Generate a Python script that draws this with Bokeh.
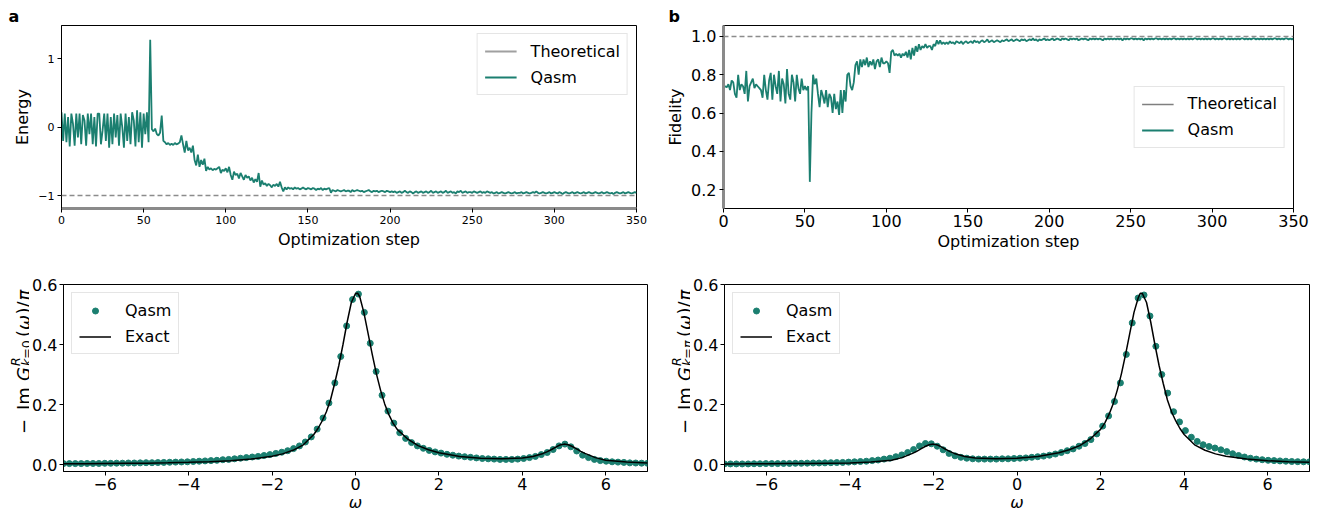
import numpy as np
from math import pi
from bokeh.plotting import figure
from bokeh.layouts import row, column
from bokeh.models import Span, Legend, LegendItem, Label, Range1d, Title
from bokeh.embed import file_html
from bokeh.resources import INLINE

FONT = "DejaVu Sans"
TEAL = "#1b7f70"

# ---------------- data: panel a (energy) ----------------
energy = [
    0.22, -0.20, 0.20, -0.22, 0.15, -0.28, 0.20, 0.05, -0.27, 0.20,
    -0.15, 0.20, -0.25, 0.18, 0.10, -0.27, 0.20, -0.10, 0.20, -0.25,
    0.15, -0.28, 0.20, 0.20, -0.25, -0.05, 0.20, -0.20, 0.20, -0.30,
    0.15, -0.25, 0.20, -0.15, 0.18, -0.27, 0.20, 0.00, -0.30, 0.20,
    -0.20, 0.15, -0.25, 0.22, 0.10, -0.28, 0.25, -0.22, 0.22, -0.30,
    0.20, -0.10, 0.22, -0.22,
    1.28, -0.03, -0.06, -0.02, -0.10, -0.12, -0.08, 0.17, -0.20, -0.22,
    -0.25, -0.23, -0.26, -0.24, -0.26, -0.23, -0.25, -0.24, -0.22, -0.12,
    -0.25, -0.37, -0.20, -0.34, -0.30, -0.37, -0.27, -0.48, -0.56, -0.40,
    -0.58, -0.48, -0.55, -0.46, -0.64, -0.58, -0.62, -0.60, -0.63, -0.61,
    -0.62, -0.60, -0.58, -0.67, -0.62, -0.64, -0.60, -0.66, -0.58, -0.70,
    -0.77, -0.65, -0.70, -0.68, -0.75, -0.67, -0.72, -0.77, -0.70, -0.74,
    -0.72, -0.78, -0.74, -0.81, -0.76, -0.80, -0.67, -0.87, -0.78, -0.84,
    -0.82, -0.86, -0.83, -0.85, -0.88, -0.84, -0.86, -0.83, -0.87, -0.80,
    -0.88, -0.94, -0.88, -0.91, -0.88, -0.90, -0.89, -0.91, -0.88, -0.90,
    -0.89, -0.91, -0.90, -0.88, -0.90, -0.91, -0.89, -0.90,
    -0.91, -0.89, -0.90, -0.92, -0.90, -0.91, -0.89, -0.92, -0.90, -0.91, -0.90, -0.89,
    -0.96,
    -0.92, -0.93, -0.94, -0.92, -0.93, -0.94, -0.93, -0.92, -0.94, -0.93,
    -0.93, -0.95, -0.92, -0.94, -0.93, -0.92, -0.93, -0.94, -0.93, -0.95,
    -0.94, -0.93, -0.92, -0.94, -0.95, -0.93, -0.94, -0.93, -0.95, -0.94,
    -0.93, -0.94, -0.95, -0.93, -0.94, -0.95,
    -0.94, -0.95, -0.94, -0.96, -0.95, -0.94, -0.96, -0.95, -0.93, -0.95,
    -0.96, -0.94, -0.95, -0.97, -0.95, -0.94, -0.96, -0.95, -0.94, -0.96,
    -0.95, -0.94, -0.96, -0.95, -0.93, -0.96, -0.95, -0.94, -0.96, -0.95,
    -0.94, -0.96, -0.95, -0.93, -0.96, -0.95, -0.94, -0.96, -0.95, -0.97,
    -0.94, -0.95, -0.93, -0.96, -0.95, -0.94, -0.96, -0.95, -0.95, -0.96,
    -0.94, -0.95, -0.96, -0.95, -0.94, -0.96, -0.95, -0.96, -0.94, -0.95,
    -0.96, -0.95, -0.97, -0.96, -0.95, -0.97, -0.96, -0.95, -0.96, -0.97,
    -0.96, -0.95, -0.96, -0.97, -0.96, -0.95, -0.97, -0.96, -0.96, -0.95,
    -0.97, -0.96, -0.95, -0.96, -0.97, -0.96, -0.95, -0.96, -0.94, -0.96,
    -0.97, -0.96, -0.95, -0.96, -0.97, -0.96, -0.95, -0.97, -0.96, -0.95,
    -0.96, -0.97, -0.95, -0.96, -0.98, -0.96, -0.95, -0.96, -0.97, -0.96,
    -0.95, -0.97, -0.96, -0.95, -0.96, -0.97, -0.96, -0.95, -0.97, -0.96,
    -0.95, -0.96, -0.97, -0.96, -0.95, -0.96, -0.97, -0.96, -0.95, -0.97,
    -0.96, -0.95, -0.96, -0.97, -0.96, -0.98, -0.96, -0.95, -0.96, -0.97,
    -0.96, -0.95, -0.97, -0.96, -0.95, -0.96, -0.97, -0.96, -0.95, -0.96,
]
THEORY_ENERGY = -1.0

# ---------------- data: panel b (fidelity) ----------------
fidelity = [
    0.73, 0.74, 0.735, 0.75, 0.72, 0.77, 0.76, 0.70, 0.68, 0.80,
    0.72, 0.75, 0.74, 0.70, 0.82, 0.66, 0.74, 0.76, 0.78, 0.73,
    0.75, 0.74, 0.73, 0.72, 0.68, 0.80, 0.72, 0.67, 0.77, 0.81,
    0.67, 0.80, 0.74, 0.70, 0.82, 0.66, 0.78, 0.75, 0.65, 0.83,
    0.70, 0.67, 0.80, 0.76, 0.66, 0.80, 0.73, 0.70, 0.78, 0.72,
    0.74, 0.72, 0.74,
    0.24, 0.60, 0.80, 0.75, 0.78, 0.70, 0.63, 0.72, 0.69, 0.65,
    0.72, 0.63, 0.70, 0.68, 0.60, 0.70, 0.62, 0.66, 0.59, 0.72,
    0.60, 0.72, 0.66, 0.80, 0.81, 0.74, 0.72, 0.76, 0.85, 0.87,
    0.80, 0.88, 0.84, 0.88, 0.85, 0.89, 0.84, 0.87, 0.85, 0.88,
    0.83, 0.87, 0.88, 0.84, 0.89, 0.86, 0.86, 0.87, 0.86, 0.81,
    0.92, 0.93, 0.90, 0.91, 0.90, 0.91, 0.89, 0.91, 0.90, 0.92,
    0.89, 0.93, 0.88, 0.94, 0.90, 0.95, 0.92, 0.96, 0.93, 0.95,
    0.94, 0.96, 0.94, 0.95, 0.95, 0.93, 0.96, 0.95, 0.98, 0.96,
    0.98, 0.96, 0.97, 0.96,
    0.97, 0.96, 0.975, 0.965, 0.97, 0.96, 0.975, 0.97, 0.965, 0.975,
    0.96, 0.97, 0.975, 0.965,
    0.97, 0.975, 0.965, 0.98, 0.97, 0.975, 0.965, 0.975, 0.98, 0.97,
    0.975, 0.985, 0.97, 0.975, 0.98, 0.97, 0.975, 0.98, 0.975, 0.97,
    0.98, 0.975, 0.98, 0.985, 0.975, 0.98, 0.985, 0.975, 0.98, 0.985,
    0.98, 0.975, 0.985, 0.98, 0.985, 0.975, 0.98, 0.985, 0.98, 0.99,
    0.98, 0.985, 0.975, 0.985, 0.98, 0.985, 0.99, 0.98, 0.985, 0.98,
    0.985, 0.99, 0.98, 0.985, 0.99, 0.985, 0.98, 0.99, 0.985, 0.99,
    0.985, 0.98, 0.99, 0.985, 0.99, 0.985, 0.99, 0.98, 0.985, 0.99,
    0.985, 0.99, 0.985, 0.98, 0.99, 0.985, 0.99, 0.985, 0.99, 0.985,
    0.99, 0.985, 0.98, 0.99, 0.985, 0.99, 0.985, 0.99, 0.985, 0.99,
    0.985, 0.99, 0.985, 0.99, 0.98, 0.99, 0.985, 0.99, 0.985, 0.99,
    0.99, 0.985, 0.99, 0.985, 0.99, 0.985, 0.99, 0.98, 0.99, 0.985,
    0.99, 0.985, 0.99, 0.985, 0.99, 0.99, 0.985, 0.99, 0.985, 0.99,
    0.985, 0.99, 0.985, 0.99, 0.985, 0.99, 0.99, 0.985, 0.99, 0.985,
    0.99, 0.985, 0.99, 0.985, 0.99, 0.985, 0.99, 0.985, 0.99, 0.99,
    0.985, 0.99, 0.985, 0.99, 0.985, 0.99, 0.985, 0.99, 0.985, 0.99,
    0.99, 0.985, 0.99, 0.985, 0.99, 0.985, 0.99, 0.99, 0.985, 0.99,
    0.985, 0.99, 0.985, 0.99, 0.985, 0.99, 0.985, 0.99, 0.99, 0.985,
    0.99, 0.985, 0.99, 0.985, 0.99, 0.99, 0.985, 0.99, 0.985, 0.99,
    0.985, 0.99, 0.985, 0.99, 0.985, 0.99, 0.985, 0.99, 0.99, 0.985,
    0.99, 0.985, 0.99, 0.985, 0.99, 0.99, 0.985, 0.99, 0.985, 0.99,
]
THEORY_FIDELITY = 1.0

# ---------------- data: panels c, d (spectral functions) ----------------
omega_qasm = np.linspace(-7, 7, 100)   # sampling grid of the Qasm points

qasm_k0 = [
    0.003, 0.003, 0.003, 0.003, 0.0035, 0.0035, 0.0035, 0.004, 0.004, 0.0045,
    0.0045, 0.005, 0.005, 0.0055, 0.006, 0.006, 0.0065, 0.007, 0.0075, 0.008,
    0.0085, 0.009, 0.010, 0.011, 0.012, 0.013, 0.014, 0.016, 0.017, 0.019,
    0.021, 0.023, 0.025, 0.027, 0.030, 0.033, 0.037, 0.041, 0.046, 0.053,
    0.062, 0.075, 0.092, 0.118, 0.155, 0.205, 0.272, 0.360, 0.462, 0.550,
    0.568, 0.507, 0.404, 0.310, 0.231, 0.178, 0.138, 0.106, 0.087, 0.073,
    0.062, 0.054, 0.047, 0.042, 0.038, 0.034, 0.031, 0.028, 0.026, 0.024,
    0.022, 0.020, 0.019, 0.018, 0.017, 0.017, 0.017, 0.018, 0.020, 0.023,
    0.027, 0.033, 0.040, 0.050, 0.062, 0.068, 0.059, 0.045, 0.031, 0.023,
    0.017, 0.013, 0.011, 0.009, 0.008, 0.007, 0.0055, 0.005, 0.0045, 0.004,
]
exact_k0_w = [-7, -6.5, -6, -5.5, -5, -4.5, -4, -3.5, -3, -2.5,
              -2, -1.75, -1.5, -1.25, -1, -0.9, -0.8, -0.7, -0.6, -0.5,
              -0.4, -0.3, -0.2, -0.1, 0, 0.05, 0.1, 0.2, 0.3, 0.4,
              0.5, 0.6, 0.7, 0.8, 0.9, 1.0, 1.25, 1.5, 1.75, 2,
              2.5, 3, 3.5, 4, 4.25, 4.5, 4.6, 4.7, 4.8, 4.9,
              5, 5.1, 5.2, 5.3, 5.4, 5.5, 5.75, 6, 6.5, 7]
exact_k0 = [0.0024, 0.0028, 0.0032, 0.0038, 0.0046, 0.0057, 0.0072, 0.0094, 0.0127, 0.0181,
            0.0277, 0.0355, 0.0474, 0.0657, 0.100, 0.120, 0.145, 0.175, 0.215, 0.270,
            0.330, 0.400, 0.475, 0.540, 0.570, 0.571, 0.560, 0.507, 0.438, 0.368,
            0.303, 0.248, 0.202, 0.166, 0.138, 0.117, 0.085, 0.063, 0.049, 0.039,
            0.027, 0.021, 0.019, 0.022, 0.027, 0.037, 0.043, 0.050, 0.058, 0.065,
            0.068, 0.066, 0.060, 0.052, 0.044, 0.037, 0.023, 0.014, 0.008, 0.005]

qasm_kpi = [
    0.002, 0.002, 0.002, 0.002, 0.002, 0.0025, 0.0025, 0.003, 0.003, 0.003,
    0.0035, 0.0035, 0.004, 0.004, 0.0045, 0.005, 0.005, 0.0055, 0.006, 0.0065,
    0.007, 0.008, 0.009, 0.010, 0.011, 0.013, 0.015, 0.018, 0.021, 0.026,
    0.032, 0.040, 0.050, 0.062, 0.070, 0.069, 0.061, 0.049, 0.037, 0.029,
    0.024, 0.021, 0.019, 0.018, 0.018, 0.018, 0.018, 0.019, 0.019, 0.020,
    0.021, 0.022, 0.024, 0.026, 0.028, 0.031, 0.035, 0.040, 0.046, 0.052,
    0.061, 0.070, 0.083, 0.102, 0.128, 0.162, 0.210, 0.272, 0.367, 0.472,
    0.555, 0.565, 0.495, 0.394, 0.300, 0.238, 0.176, 0.142, 0.113, 0.091,
    0.077, 0.066, 0.060, 0.055, 0.049, 0.043, 0.036, 0.030, 0.025, 0.021,
    0.018, 0.016, 0.014, 0.013, 0.012, 0.011, 0.010, 0.0095, 0.009, 0.009,
]
exact_kpi_w = [-7, -6.5, -6, -5.5, -5, -4.5, -4, -3.5, -3, -2.75,
               -2.5, -2.4, -2.3, -2.2, -2.1, -2, -1.9, -1.8, -1.7, -1.6,
               -1.5, -1.25, -1, -0.5, 0, 0.5, 1, 1.25, 1.5, 1.75,
               2, 2.1, 2.2, 2.3, 2.4, 2.5, 2.6, 2.7, 2.8, 2.9,
               2.95, 3.0, 3.1, 3.2, 3.3, 3.4, 3.5, 3.6, 3.7, 3.8,
               3.9, 4.0, 4.25, 4.5, 4.75, 5, 5.5, 6, 6.5, 7]
exact_kpi = [0.0020, 0.0022, 0.0025, 0.0030, 0.0036, 0.0044, 0.0050, 0.0080, 0.014, 0.023,
             0.037, 0.044, 0.052, 0.060, 0.066, 0.068, 0.065, 0.058, 0.050, 0.043,
             0.037, 0.027, 0.022, 0.019, 0.021, 0.027, 0.039, 0.049, 0.063, 0.085,
             0.117, 0.138, 0.166, 0.202, 0.248, 0.303, 0.368, 0.438, 0.507, 0.555,
             0.571, 0.570, 0.540, 0.475, 0.400, 0.330, 0.270, 0.215, 0.175, 0.145,
             0.120, 0.100, 0.0657, 0.0474, 0.0355, 0.0277, 0.0181, 0.0127, 0.0094, 0.0072]

# ---------------- ticks ----------------
step_ticks = [0, 50, 100, 150, 200, 250, 300, 350]
step_labels = ["0", "50", "100", "150", "200", "250", "300", "350"]
energy_ticks = [-1, 0, 1]
energy_labels = ["\u22121", "0", "1"]
fid_ticks = [0.2, 0.4, 0.6, 0.8, 1.0]
fid_labels = ["0.2", "0.4", "0.6", "0.8", "1.0"]
omega_ticks = [-6, -4, -2, 0, 2, 4, 6]
omega_labels = ["\u22126", "\u22124", "\u22122", "0", "2", "4", "6"]
green_ticks = [0.0, 0.2, 0.4, 0.6]
green_labels = ["0.0", "0.2", "0.4", "0.6"]


def make_fig(w, h, bl, br, bt, bb, xr, yr):
    p = figure(width=w, height=h, x_range=Range1d(*xr), y_range=Range1d(*yr),
               output_backend="svg", toolbar_location=None,
               min_border_left=bl, min_border_right=br,
               min_border_top=bt, min_border_bottom=bb)
    p.xgrid.visible = False
    p.ygrid.visible = False
    p.outline_line_color = "black"
    p.outline_line_width = 1
    p.outline_line_alpha = 1
    p.background_fill_color = "white"
    p.border_fill_color = "white"
    for ax in (p.xaxis[0], p.yaxis[0]):
        ax.axis_line_color = "black"
        ax.major_tick_line_color = "black"
        ax.major_tick_out = 4
        ax.major_tick_in = 0
        ax.minor_tick_line_color = None
        ax.major_label_text_font = FONT
        ax.major_label_text_color = "black"
        ax.major_label_text_font_size = "16px"
        ax.major_label_standoff = 3
        ax.axis_label_text_font = FONT
        ax.axis_label_text_font_style = "normal"
        ax.axis_label_text_font_size = "16px"
        ax.axis_label_text_color = "black"
        ax.axis_label_standoff = 3
    return p


def set_ticks(ax, ticks, labels):
    ax.ticker = ticks
    ax.major_label_overrides = {t: s for t, s in zip(ticks, labels)}


def style_legend(leg, loc, gh=20):
    leg.location = loc
    leg.label_text_font = FONT
    leg.label_text_font_size = "16px"
    leg.label_text_color = "black"
    leg.border_line_color = "#cccccc"
    leg.border_line_width = 1
    leg.background_fill_alpha = 0.85
    leg.padding = 7
    leg.spacing = 6
    leg.margin = 8
    leg.glyph_width = 32
    leg.glyph_height = gh
    leg.label_height = 20
    leg.label_standoff = 14


def panel_letter(p, txt, offset, standoff):
    p.add_layout(Title(text=txt, align="left", offset=offset, standoff=standoff,
                       text_font=FONT, text_font_style="bold", text_font_size="16px",
                       text_color="black"), "above")


def label_strip(w, h, bt, bb):
    # narrow companion plot whose frame lines up with the panel's frame
    s = figure(width=w, height=h, x_range=Range1d(0, 1), y_range=Range1d(0, 1),
               output_backend="svg", toolbar_location=None,
               x_axis_type=None, y_axis_type=None, title=None,
               min_border_left=0, min_border_right=0,
               min_border_top=bt, min_border_bottom=bb)
    s.outline_line_color = None
    s.background_fill_color = "white"
    s.border_fill_color = "white"
    return s


def math_ylabel(s, base, center_y, sub_parts):
    # pieces of  - Im G^R_{k=...}(w)/pi , written bottom-to-top
    total = 145
    s0 = center_y - total / 2.0
    parts = [("\u2212", 0, 0, "normal", "18px"),
             ("Im", 24, 0, "normal", "18px"),
             ("G", 53, 0, "italic", "18px"),
             ("R", 68, -8, "italic", "12.6px")]
    for txt, off, style in sub_parts:
        parts.append((txt, 68 + off, 3, style, "12.6px"))
    parts += [("(", 97, 0, "normal", "18px"),
              ("\u03c9", 104, 0, "italic", "18px"),
              (")/", 119.5, 0, "normal", "18px"),
              ("\u03c0", 133.5, 0, "italic", "18px")]
    for txt, off, dx, style, size in parts:
        s.add_layout(Label(x=base + dx, y=s0 + off, x_units="screen", y_units="screen",
                           text=txt, angle=pi / 2,
                           text_font=FONT, text_font_style=style,
                           text_font_size=size, text_align="left",
                           text_baseline="alphabetic", text_color="black"))


steps = np.arange(len(energy))
steps_f = np.arange(len(fidelity))

# ---------------- panel a ----------------
pa = make_fig(663, 255, 61, 27, 25, 45, (0, 350), (-1.19, 1.49))
set_ticks(pa.xaxis[0], step_ticks, step_labels)
set_ticks(pa.yaxis[0], energy_ticks, energy_labels)
pa.xaxis.major_label_text_font_size = "11px"
pa.yaxis.major_label_text_font_size = "11px"
pa.xaxis.axis_label = "Optimization step"
pa.yaxis.axis_label = "Energy"
pa.xaxis.axis_line_color = "#8a8a8a"
pa.xaxis.axis_line_width = 3
pa.add_layout(Span(location=THEORY_ENERGY, dimension="width", line_color="#8c8c8c",
                   line_dash="5 3", line_width=1.5))
ra_th = pa.line(x=[0], y=[np.nan], line_color="#a0a0a0", line_width=2)
ra_q = pa.line(steps, energy, line_color=TEAL, line_width=1.8)
leg_a = Legend(items=[LegendItem(label="Theoretical", renderers=[ra_th]),
                      LegendItem(label="Qasm", renderers=[ra_q])])
style_legend(leg_a, "top_right")
pa.add_layout(leg_a)
panel_letter(pa, "a", -53, 0)

# ---------------- panel b ----------------
pb = make_fig(663, 255, 59, 33, 25, 47, (0, 350), (0.1007, 1.0575))
set_ticks(pb.xaxis[0], step_ticks, step_labels)
set_ticks(pb.yaxis[0], fid_ticks, fid_labels)
pb.xaxis.axis_label = "Optimization step"
pb.yaxis.axis_label = "Fidelity"
pb.xaxis.major_label_standoff = 2
pb.xaxis.axis_label_standoff = 2
pb.yaxis.axis_line_color = "#8a8a8a"
pb.yaxis.axis_line_width = 3
pb.add_layout(Span(location=THEORY_FIDELITY, dimension="width", line_color="#8c8c8c",
                   line_dash="5 3", line_width=1.5))
rb_th = pb.line(x=[0], y=[np.nan], line_color="#7f7f7f", line_width=1.5)
rb_q = pb.line(steps_f, fidelity, line_color=TEAL, line_width=1.8)
leg_b = Legend(items=[LegendItem(label="Theoretical", renderers=[rb_th]),
                      LegendItem(label="Qasm", renderers=[rb_q])])
style_legend(leg_b, "center_right")
pb.add_layout(leg_b)
panel_letter(pb, "b", -55, 0)

# ---------------- panel c ----------------
ROW2_H = 259
TOP2, BOT2 = 29, 43
pc = make_fig(634, ROW2_H, 32, 16, TOP2, BOT2, (-7, 7), (-0.0233, 0.6))
set_ticks(pc.xaxis[0], omega_ticks, omega_labels)
set_ticks(pc.yaxis[0], green_ticks, green_labels)
pc.yaxis.major_label_standoff = 2
pc.xaxis.axis_label = "\u03c9"
pc.xaxis.axis_label_text_font_style = "italic"
pc.xaxis.major_label_standoff = 2
pc.xaxis.axis_label_standoff = 0
rc_q = pc.scatter(omega_qasm, qasm_k0, size=6, fill_color=TEAL, line_color=TEAL)
rc_e = pc.line(exact_k0_w, exact_k0, line_color="black", line_width=1.5)
leg_c = Legend(items=[LegendItem(label="Qasm", renderers=[rc_q]),
                      LegendItem(label="Exact", renderers=[rc_e])])
style_legend(leg_c, "top_left", gh=15)
pc.add_layout(leg_c)
panel_letter(pc, "c", -53, 3)

sc = label_strip(29, ROW2_H, TOP2, BOT2)
math_ylabel(sc, 22.5, 110, [("k", 0, "italic"), ("=0", 7.3, "normal")])

# ---------------- panel d ----------------
pd_ = make_fig(636, ROW2_H, 32, 17, TOP2, BOT2, (-7, 7), (-0.0233, 0.6))
set_ticks(pd_.xaxis[0], omega_ticks, omega_labels)
set_ticks(pd_.yaxis[0], green_ticks, green_labels)
pd_.yaxis.major_label_standoff = 2
pd_.xaxis.axis_label = "\u03c9"
pd_.xaxis.axis_label_text_font_style = "italic"
pd_.xaxis.major_label_standoff = 2
pd_.xaxis.axis_label_standoff = 0
rd_q = pd_.scatter(omega_qasm, qasm_kpi, size=6, fill_color=TEAL, line_color=TEAL)
rd_e = pd_.line(exact_kpi_w, exact_kpi, line_color="black", line_width=1.5)
leg_d = Legend(items=[LegendItem(label="Qasm", renderers=[rd_q]),
                      LegendItem(label="Exact", renderers=[rd_e])])
style_legend(leg_d, "top_left", gh=15)
pd_.add_layout(leg_d)
panel_letter(pd_, "d", -55, 3)

sd = label_strip(27, ROW2_H, TOP2, BOT2)
math_ylabel(sd, 20.5, 110, [("k", 0, "italic"), ("=", 7.3, "normal"), ("\u03c0", 17.9, "italic")])

layout = column(row(pa, pb), row(sc, pc, sd, pd_))
open("out.html", "w").write(file_html(layout, INLINE))
